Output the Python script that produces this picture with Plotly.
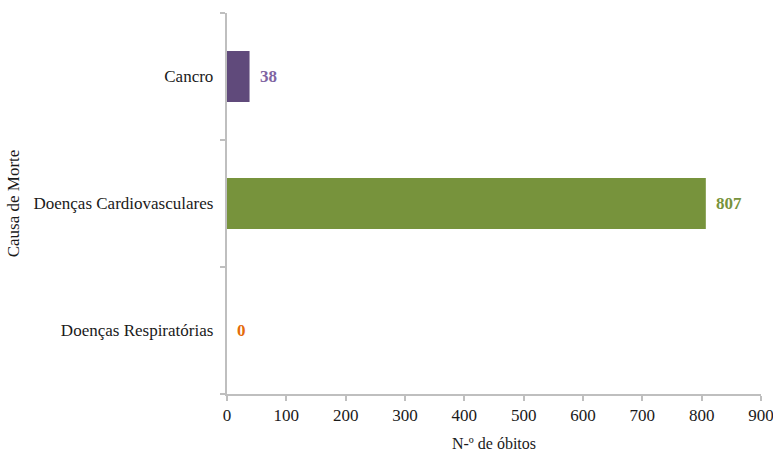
import plotly.graph_objects as go

# Causes of death and number of deaths
causas = ["Doenças Respiratórias", "Doenças Cardiovasculares", "Cancro"]
obitos = [0, 807, 38]
cores_barra = ["#E46C0A", "#77933C", "#604A7B"]
cores_rotulo = ["#E46C0A", "#77933C", "#8064A2"]
ticks_x = [0, 100, 200, 300, 400, 500, 600, 700, 800, 900]

FONTE = "Liberation Serif, Times New Roman, serif"

fig = go.Figure(
    go.Bar(
        x=obitos,
        y=causas,
        orientation="h",
        marker=dict(color=cores_barra, line=dict(width=0)),
        width=0.4,
        hoverinfo="x+y",
    )
)

# value labels to the right of each bar
for c, v, cor in zip(causas, obitos, cores_rotulo):
    fig.add_annotation(
        x=v, y=c, text=f"<b>{v}</b>", showarrow=False,
        xanchor="left", yanchor="middle", xshift=8,
        font=dict(family=FONTE, size=17, color=cor),
    )

axis_line = "#BFBFBF"
fig.update_layout(
    width=773, height=459,
    margin=dict(l=227, r=12, t=13, b=65, autoexpand=False),
    paper_bgcolor="white", plot_bgcolor="white",
    showlegend=False,
    font=dict(family=FONTE, size=16, color="#1a1a1a"),
    xaxis=dict(
        range=[0, 900], tickvals=ticks_x, showgrid=False, zeroline=False,
        showline=True, linecolor=axis_line, linewidth=1.5,
        ticks="outside", ticklen=5, tickcolor=axis_line, tickwidth=1.5,
        tickfont=dict(size=17), ticklabeloverflow="allow", automargin=False,
        title=dict(text="N-º de óbitos", font=dict(size=16), standoff=14),
    ),
    yaxis=dict(
        type="category", categoryorder="array", categoryarray=causas,
        range=[-0.5, 2.5], tickson="boundaries",
        showgrid=False, zeroline=False, automargin=False,
        showline=True, linecolor=axis_line, linewidth=1.5,
        ticks="outside", ticklen=5, tickcolor=axis_line, tickwidth=1.5,
        tickfont=dict(size=17), ticksuffix="  ",
        title=dict(text="Causa de Morte", font=dict(size=17), standoff=10),
    ),
)

fig.write_html("out.html")
